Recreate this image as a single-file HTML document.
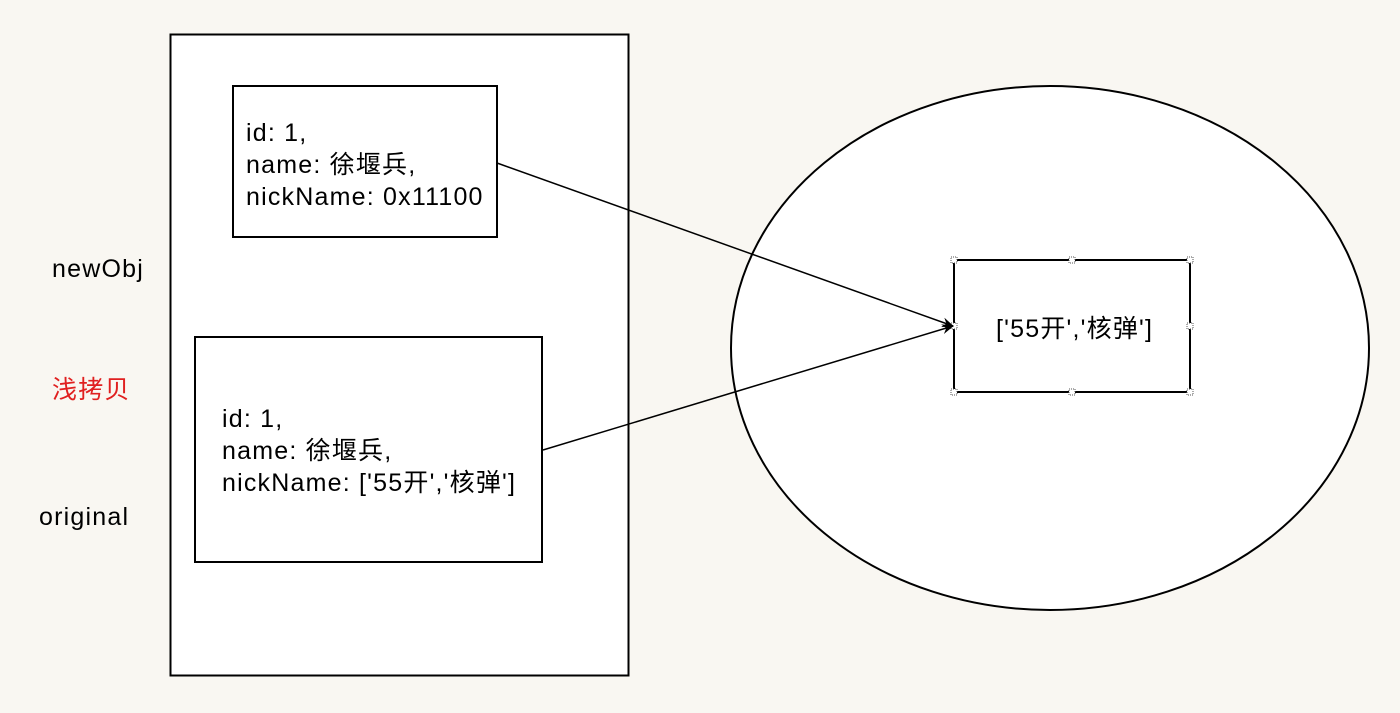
<!DOCTYPE html>
<html><head><meta charset="utf-8"><style>
html,body{margin:0;padding:0;background:#f9f7f2;}
svg{display:block;font-family:"Liberation Sans","Noto Sans CJK SC",sans-serif;}
svg text{letter-spacing:1.2px;}
</style></head><body>
<svg width="1400" height="713" viewBox="0 0 1400 713">
<defs><marker id="ah" markerWidth="12" markerHeight="10" refX="11" refY="5" orient="auto" markerUnits="userSpaceOnUse"><path d="M0,0 L12,5 L0,10 L4,5 Z" fill="#000"/></marker></defs>
<rect x="0" y="0" width="1400" height="713" fill="#f9f7f2"/>
<rect x="170.5" y="34.5" width="458" height="641" fill="#fff" stroke="#000" stroke-width="2"/>
<rect x="233" y="86" width="264" height="151" fill="#fff" stroke="#000" stroke-width="2"/>
<g font-size="25" fill="#000">
<text x="246" y="141">id: 1,</text>
<text x="246" y="173">name: 徐堰兵,</text>
<text x="246" y="205">nickName: 0x11100</text>
</g>
<rect x="195" y="337" width="347" height="225" fill="#fff" stroke="#000" stroke-width="2"/>
<g font-size="25" fill="#000">
<text x="222" y="427">id: 1,</text>
<text x="222" y="459">name: 徐堰兵,</text>
<text x="222" y="491">nickName: ['55开','核弹']</text>
</g>
<text x="52" y="277" font-size="25">newObj</text>
<text x="52" y="398" font-size="25" fill="#e02020">浅拷贝</text>
<text x="39" y="525" font-size="25">original</text>
<ellipse cx="1050" cy="348" rx="319" ry="262" fill="#fff" stroke="#000" stroke-width="2"/>
<rect x="954" y="260" width="236" height="132" fill="#fff" stroke="#000" stroke-width="2"/>
<g fill="#fff" stroke="#555" stroke-width="1" stroke-dasharray="1,1">
<rect x="951" y="257" width="6" height="6"/><rect x="1069" y="257" width="6" height="6"/><rect x="1187" y="257" width="6" height="6"/>
<rect x="951" y="323" width="6" height="6"/><rect x="1187" y="323" width="6" height="6"/>
<rect x="951" y="389" width="6" height="6"/><rect x="1069" y="389" width="6" height="6"/><rect x="1187" y="389" width="6" height="6"/>
</g>
<text x="996" y="337" font-size="25">['55开','核弹']</text>
<line x1="497" y1="163" x2="953" y2="326" stroke="#000" stroke-width="1.5" marker-end="url(#ah)"/>
<line x1="543" y1="450" x2="953" y2="326" stroke="#000" stroke-width="1.5" marker-end="url(#ah)"/>
</svg>
</body></html>
